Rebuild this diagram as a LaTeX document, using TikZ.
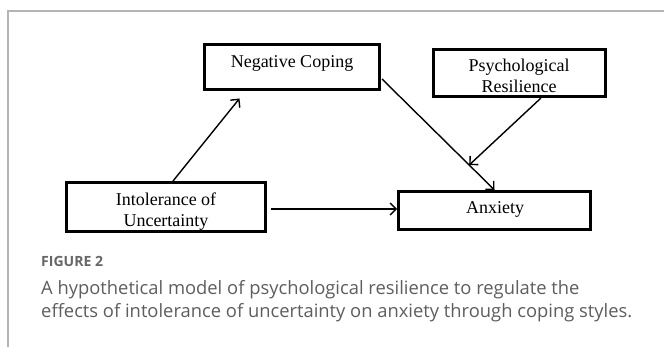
\documentclass[tikz,border=0pt]{standalone}
\usepackage{fontspec}
\setmainfont{Liberation Serif}
\newfontfamily\capfont{Open Sans}
\usetikzlibrary{arrows.meta,calc}
\definecolor{framegray}{HTML}{B5B5B5}
\definecolor{capgray}{HTML}{5E5E5E}
\definecolor{figgray}{HTML}{666666}
\newsavebox\mycapbox
\newsavebox\myfigbox
\begin{document}
\sbox\mycapbox{\capfont\fontsize{10}{12}\selectfont effects of intolerance of uncertainty on anxiety through coping styles.}%
\sbox\myfigbox{\capfont\bfseries\fontsize{10}{12}\selectfont FIGURE 2}%
\pgfmathsetmacro\capsz{5910/\the\wd\mycapbox}%
\pgfmathsetmacro\figsz{620/\the\wd\myfigbox}%
\begin{tikzpicture}[x=1pt,y=-1pt,
  boxnode/.style={draw,rectangle,line width=2.6pt,inner sep=0pt},
  boxtext/.style={inner sep=0pt,anchor=base,font=\fontsize{18}{20}\selectfont},
  conn/.style={line width=1.4pt,-{Straight Barb[length=6pt,width=12pt]}},
  captext/.style={inner sep=0pt,anchor=base west,text=capgray}]
\useasboundingbox (0,0) rectangle (664,347);
\fill[white] (0,0) rectangle (664,347);
% frame
\draw[framegray,line width=1.3pt] (8,347) -- (8,11) -- (664,11);
% texts
\node[boxtext] (nct) at (292,68) {Negative Coping};
\node[boxtext] (prt1) at (519,72) {Psychological};
\node[boxtext] (prt2) at (519,93) {Resilience};
\begin{scope}
\clip (66.3,182.3) rectangle (265.7,230.3);
\node[boxtext] (iut1) at (166,206) {Intolerance of};
\node[boxtext] (iut2) at (166,226.5) {Uncertainty};
\end{scope}
\node[boxtext] (anxt) at (495,214) {Anxiety};
% boxes
\node[boxnode,minimum width=175.4pt,minimum height=45.4pt] (nc) at (292,67) {};
\node[boxnode,minimum width=172.4pt,minimum height=47.4pt] (pr) at (519.5,73) {};
\node[boxnode,minimum width=199.4pt,minimum height=49.4pt] (iu) at (166,207) {};
\node[boxnode,minimum width=192.4pt,minimum height=38.4pt] (anx) at (494.5,210.5) {};
% connectors
\coordinate (s1) at ([xshift=7pt]iu.north);
\coordinate (e1) at ([xshift=-52.5pt,yshift=-7.5pt]nc.south);
\draw[conn] (s1) -- (e1);
\coordinate (s2) at ([xshift=1pt,yshift=-12pt]nc.east);
\draw[conn] (s2) -- (anx.north);
\coordinate (m) at ($(s2)!0.775!(anx.north)$);
\coordinate (s3) at ([xshift=21.5pt]pr.south);
\draw[conn] (s3) -- (m);
\coordinate (s4) at ([xshift=4pt,yshift=-2pt]iu.east);
\draw[conn] (s4) -- (s4 -| anx.west);
% caption
\node[captext,text=figgray,font=\capfont\bfseries\fontsize{\figsz}{\figsz}\selectfont] (fig) at (41,267) {FIGURE 2};
\node[captext,font=\capfont\fontsize{\capsz}{\capsz}\selectfont] (cap1) at (41,295) {A hypothetical model of psychological resilience to regulate the};
\node[captext,font=\capfont\fontsize{\capsz}{\capsz}\selectfont] (cap2) at (41,318) {effects of intolerance of uncertainty on anxiety through coping styles.};
\end{tikzpicture}
\end{document}
